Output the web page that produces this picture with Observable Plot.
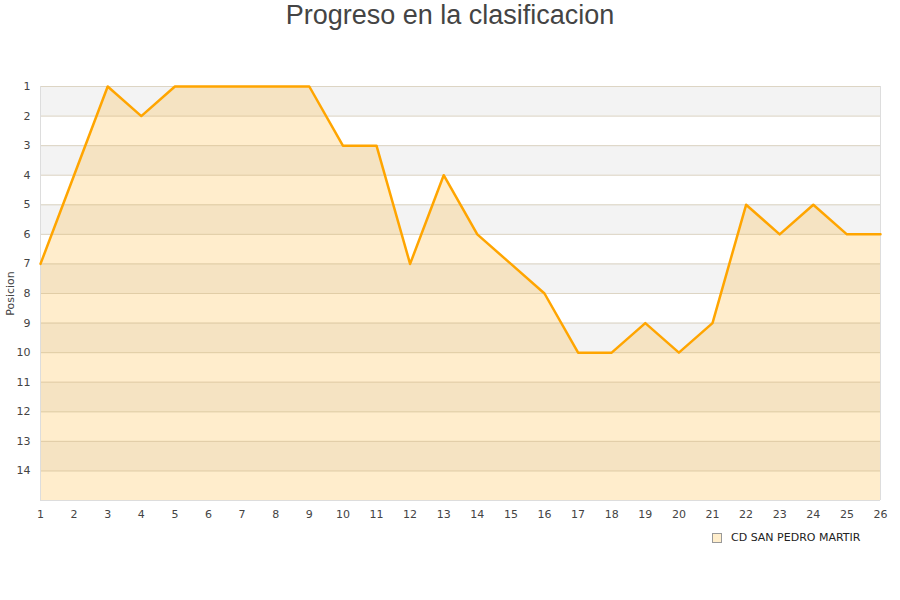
<!DOCTYPE html>
<html><head><meta charset="utf-8">
<script src="https://cdn.jsdelivr.net/npm/d3@7"></script>
<script src="https://cdn.jsdelivr.net/npm/@observablehq/plot@0.6"></script>
<style>
body{margin:0;background:#fff;font-family:"DejaVu Sans",sans-serif;}
#wrap{position:relative;width:900px;height:600px;}
#title{position:absolute;left:0;top:0;width:900px;text-align:center;font-family:"Liberation Sans",Arial,sans-serif;font-size:27px;color:#444;line-height:31px;}
#legend{position:absolute;left:712px;top:531px;font-size:11px;color:#222;display:flex;align-items:center;}
#legend span.sw{display:inline-block;width:8px;height:8px;background:#ffeecc;border:1px solid #999;margin-right:9px;}
</style></head>
<body><div id="wrap"><div id="title">Progreso en la clasificacion</div><div id="chart"></div>
<div id="legend"><span class="sw"></span><span>CD SAN PEDRO MARTIR</span></div></div>
<script>
const jornadas = [1,2,3,4,5,6,7,8,9,10,11,12,13,14,15,16,17,18,19,20,21,22,23,24,25,26];
const posiciones = [7,4,1,2,1,1,1,1,1,3,3,7,4,6,7,8,10,10,9,10,9,5,6,5,6,6];
const yTicks = [1,2,3,4,5,6,7,8,9,10,11,12,13,14];
const bandStarts = [1,3,5,7,9,11,13];
const gridLines = [1,2,3,4,5,6,7,8,9,10,11,12,13,14,15];
const equipo = "CD SAN PEDRO MARTIR";

const data = jornadas.map((j,i)=>({j, p: posiciones[i]}));
const chart = Plot.plot({
  width: 900, height: 600,
  marginLeft: 40, marginRight: 20, marginTop: 86, marginBottom: 100,
  style: {fontFamily: "DejaVu Sans, sans-serif", fontSize: "11px", color: "#444", background: "transparent"},
  x: {domain: [1, 26], label: null},
  y: {domain: [1, 15], reverse: true, label: "Posicion"},
  marks: [
    Plot.rect(bandStarts, {x1: 1, x2: 26, y1: d => d, y2: d => d + 1, fill: "#f3f3f3"}),
    Plot.ruleY(gridLines, {stroke: "#e0e0e0", strokeWidth: 1}),
    Plot.areaY(data, {x: "j", y1: 15, y2: "p", fill: "#ffa500", fillOpacity: 0.2}),
    Plot.ruleY(gridLines, {stroke: "#d8c090", strokeOpacity: 0.35, strokeWidth: 1}),
    Plot.ruleX([1, 26], {stroke: "#dddddd"}),
    Plot.ruleY([15], {stroke: "#dddddd"}),
    Plot.lineY(data, {x: "j", y: "p", stroke: "#ffa500", strokeWidth: 2.5}),
    Plot.axisY({ticks: yTicks, tickSize: 0, tickPadding: 10, label: "Posicion", labelAnchor: "center", labelArrow: "none", labelOffset: 34, tickFormat: d => d}),
    Plot.axisX({ticks: jornadas, tickSize: 0, tickPadding: 10, label: null, tickFormat: d => d})
  ]
});
document.getElementById("chart").appendChild(chart);
</script></body></html>
